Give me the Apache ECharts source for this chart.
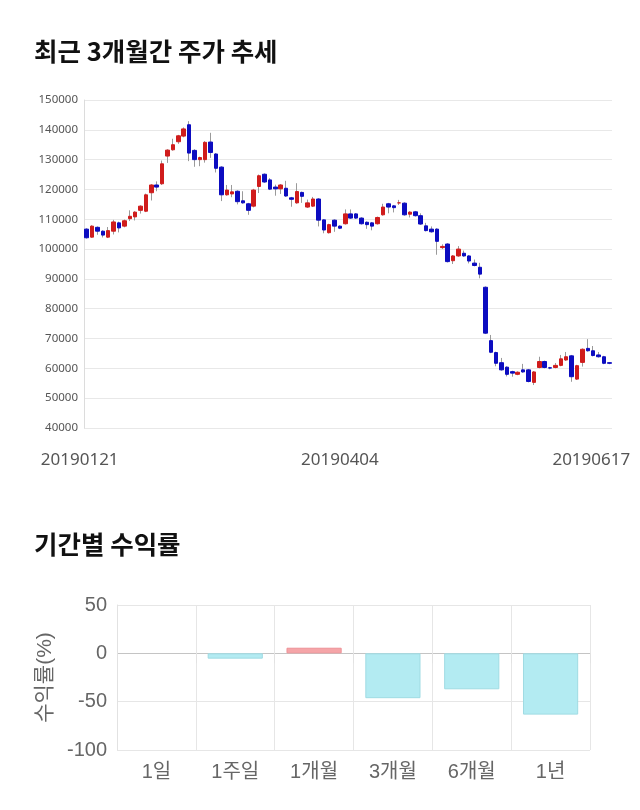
<!DOCTYPE html>
<html>
<head>
<meta charset="utf-8">
<script src="https://cdn.jsdelivr.net/npm/echarts@6/dist/echarts.min.js"></script>
<style>
html,body{margin:0;padding:0;background:#fff;}
#c{width:640px;height:810px;}
</style>
</head>
<body>
<div id="c"></div>
<script>
// ---- Price data (daily candles) ----
const opens  = [106700,104000,107300,106000,104000,106000,108800,107700,110200,110800,
                113000,112700,118900,121500,121900,131200,133300,136000,137900,141700,
                133100,130000,130000,135900,131900,127500,118200,118500,119400,116200,
                115200,114400,121000,125100,123200,120800,120200,120400,117200,115500,
                119000,114100,114400,116800,109800,105500,109700,107700,108500,111800,
                111800,110400,109000,108800,108500,111500,115200,114500,115500,115400,
                111700,112500,111200,107800,106700,106700,100500,101700,96100,97700,
                98600,97700,95300,93900,87200,69300,65300,61900,60400,58900,
                58000,59500,59500,55300,60300,62300,60200,60300,61000,62800,
                64200,56400,62000,66700,65900,64500,63900,61900];
const closes = [103800,107700,106000,104700,106200,109100,107100,109500,111000,112400,
                114400,118200,121500,120800,128600,133200,135000,138000,140300,132200,
                130000,130700,135800,132400,127100,118200,119800,119200,115900,115500,
                113000,119800,124600,122500,120100,120200,121500,117800,116700,119300,
                117700,115500,116800,109700,106400,108200,107700,107000,111800,110400,
                110400,108500,108200,107700,110600,114100,114100,113900,115500,111500,
                112400,111200,108400,106200,105800,102600,100900,95800,97700,100000,
                97700,96000,94500,91600,71800,65400,61700,59500,58000,58400,
                58700,58800,55600,58800,62300,60300,60100,61000,63200,63900,
                57200,60900,66400,65900,64300,63900,61700,61700];
const lows   = [103500,103800,104800,103900,103700,104900,105600,107300,109400,109600,
                111900,112400,116300,119400,121500,128900,133000,135300,137500,129500,
                127600,127800,129000,130600,125700,116100,117900,117400,115000,115200,
                111500,114000,118800,122200,119800,117900,118500,117500,114200,115200,
                115500,113800,114100,107600,105300,105200,105800,106700,108200,110100,
                110100,108200,106800,106300,108200,111200,112000,112300,114800,111200,
                110600,110900,108100,105900,105500,98100,100000,95500,95000,97400,
                97400,95200,94200,90200,71500,65100,60700,59200,57300,57200,
                57700,58500,55300,54400,60000,60000,59700,60000,60700,62500,
                55500,56100,60600,65600,64000,63600,61400,61400];
const highs  = [107000,108000,107600,106300,107400,109800,109200,109900,113000,112700,
                114700,118600,121800,122700,129700,133500,137000,138300,140800,142900,
                133500,131000,136200,139000,132200,127800,121500,121500,119700,119400,
                115500,120200,125000,125400,123800,121600,121800,122900,117500,122100,
                119300,116600,117500,117100,110000,108500,110000,108000,113300,113300,
                112100,110700,109300,109100,110900,115200,115500,114800,116500,115700,
                112700,112800,112000,108800,107600,107000,101600,102000,98000,101000,
                99500,98000,96500,95400,87500,71200,65600,63500,60700,59200,
                59000,61500,59800,59100,63900,62600,60500,61800,64500,65500,
                64500,61200,66700,69800,67500,65500,64200,62000];
const dateTickLabels = ['20190121', '20190404', '20190617'];
const dateTickIndex  = [0, 47, 97];
const priceTicks = [40000, 50000, 60000, 70000, 80000, 90000, 100000, 110000, 120000, 130000, 140000, 150000];

// ---- Period returns ----
const periods = ['1일', '1주일', '1개월', '3개월', '6개월', '1년'];
const returns = [0, -5.5, 5.8, -46.4, -37.2, -63.4];
const returnTicks = [-100, -50, 0, 50];

// ---- build ----
const cats = opens.map((_, i) => String(i));
const wickData = opens.map((o, i) => [lows[i], lows[i], lows[i], highs[i]]);
const bodyData = opens.map((o, i) => [o, closes[i], Math.min(o, closes[i]), Math.max(o, closes[i])]);
const barData = returns.map(v => ({
  value: v,
  itemStyle: {
    color: v >= 0 ? '#f5a5a8' : '#b3ebf2',
    borderColor: v >= 0 ? '#ee9196' : '#9fdbe3',
    borderWidth: v === 0 ? 0 : 1
  }
}));

const chart = echarts.init(document.getElementById('c'));
const RED = '#d01c1c', BLUE = '#0c0cc0';
chart.setOption({
  animation: false,
  backgroundColor: '#fff',
  title: [
    {text: '최근 3개월간 주가 추세', left: 29, top: 34,
     textStyle: {fontSize: 25.5, fontWeight: 'bold', color: '#111', fontFamily: 'Noto Sans CJK KR'}},
    {text: '기간별 수익률', left: 29, top: 527,
     textStyle: {fontSize: 25.5, fontWeight: 'bold', color: '#111', fontFamily: 'Noto Sans CJK KR'}}
  ],
  grid: [
    {left: 84, top: 100, width: 528, height: 328},
    {left: 117, top: 605, width: 473, height: 145}
  ],
  xAxis: [
    {type: 'category', gridIndex: 0, data: cats, boundaryGap: true,
     axisLine: {show: false}, axisTick: {show: false}, splitLine: {show: false},
     axisLabel: {
       margin: 24, color: '#555', fontSize: 17, fontFamily: 'Noto Sans',
       interval: (idx) => dateTickIndex.indexOf(idx) >= 0,
       formatter: (v, idx) => {
         const k = dateTickIndex.indexOf(idx);
         if (k < 0) return '';
         const key = k === 0 ? 'a' : (k === 1 ? 'm' : 'z');
         return '{' + key + '|' + dateTickLabels[k] + '}';
       },
       rich: {
         a: {padding: [0, 14, 0, 0], color: '#555', fontSize: 17, fontFamily: 'Noto Sans'},
         m: {padding: [0, 0, 0, 0], color: '#555', fontSize: 17, fontFamily: 'Noto Sans'},
         z: {padding: [0, 36, 0, 0], color: '#555', fontSize: 17, fontFamily: 'Noto Sans'}
       }
     }},
    {type: 'category', gridIndex: 1, data: periods, boundaryGap: true,
     axisLine: {show: false},
     axisTick: {show: true, length: 10, lineStyle: {color: '#e2e2e2'}},
     splitLine: {show: true, interval: 0, lineStyle: {color: '#e6e6e6'}},
     axisLabel: {margin: 12, color: '#666', fontSize: 20, fontFamily: 'Liberation Sans, Noto Sans CJK KR', interval: 0}}
  ],
  yAxis: [
    {type: 'value', gridIndex: 0, min: priceTicks[0], max: priceTicks[priceTicks.length - 1], interval: 10000,
     axisLine: {show: true, lineStyle: {color: '#dcdcdc'}}, axisTick: {show: false},
     splitLine: {lineStyle: {color: '#e8e8e8'}},
     axisLabel: {margin: 6, color: '#555', fontSize: 11.5, fontFamily: 'Noto Sans', formatter: (v) => String(v)}},
    {type: 'value', gridIndex: 1, min: returnTicks[0], max: returnTicks[returnTicks.length - 1], interval: 50,
     name: '수익률(%)', nameLocation: 'middle', nameRotate: 90, nameGap: 59,
     nameTextStyle: {color: '#666', fontSize: 21, fontFamily: 'Liberation Sans, Noto Sans CJK KR'},
     axisLine: {show: true, lineStyle: {color: '#e2e2e2'}}, axisTick: {show: false},
     splitLine: {lineStyle: {color: ['#e6e6e6', '#e6e6e6', '#c4c4c4', '#e6e6e6']}},
     axisLabel: {margin: 10, color: '#666', fontSize: 20, fontFamily: 'Liberation Sans', formatter: (v) => String(v)}}
  ],
  series: [
    {type: 'candlestick', xAxisIndex: 0, yAxisIndex: 0, data: wickData, barWidth: 1,
     itemStyle: {color: '#9a9a9a', color0: '#9a9a9a', borderColor: '#9a9a9a', borderColor0: '#9a9a9a', borderWidth: 1}},
    {type: 'candlestick', xAxisIndex: 0, yAxisIndex: 0, data: bodyData, barWidth: 4,
     itemStyle: {color: RED, color0: BLUE, borderColor: RED, borderColor0: BLUE, borderWidth: 1}},
    {type: 'bar', xAxisIndex: 1, yAxisIndex: 1, data: barData, barWidth: '70%'}
  ]
});
</script>
</body>
</html>
